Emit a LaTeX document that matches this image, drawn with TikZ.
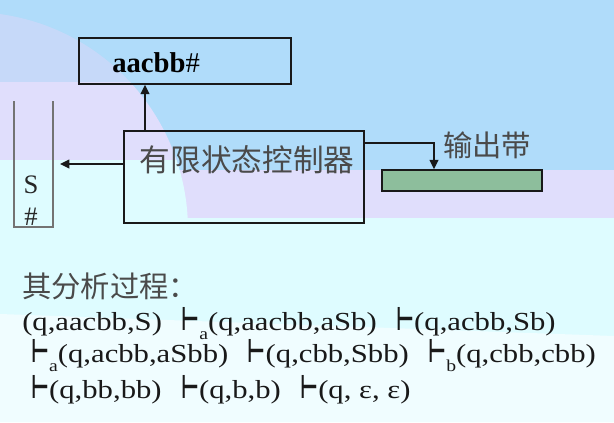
\documentclass[tikz,border=0pt]{standalone}
\usepackage{fontspec}
\usepackage{graphicx}
\setmainfont{Liberation Serif}
\newfontfamily\cjk{Noto Sans CJK SC}
\newfontfamily\formfont{Liberation Serif}[FakeStretch=1.18]
\newfontfamily\tackfont{DejaVu Sans}
\usetikzlibrary{arrows.meta}
\definecolor{bgblue}{HTML}{B0DCFA}
\definecolor{bglight}{HTML}{C6D9F9}
\definecolor{bglav}{HTML}{E0DEFC}
\definecolor{bgcyan}{HTML}{DEFCFF}
\definecolor{bgwhite}{HTML}{F0FDFF}
\definecolor{tapegreen}{HTML}{8DBE9C}
\definecolor{inkgray}{HTML}{4A4A4A}
\newcommand\yields[1]{\scalebox{0.6}[1]{\tackfont\bfseries\fontsize{24.5}{24.5}\selectfont ⊢}\raisebox{-0.38em}{\fontsize{12.5}{12.5}\selectfont #1}}
\newcommand\gap{\hspace{0.75em}}
\begin{document}
\begin{tikzpicture}[x=0.75pt,y=-0.75pt]
        \tikzset{box/.style={draw=black!90, line width=1.1pt, fill=none, inner sep=0pt},
                 arr/.style={line width=1.1pt, draw=black!90, -{Triangle[length=7pt,width=6.5pt]}},
                 cjktext/.style={font=\cjk\fontsize{22}{22}\selectfont, text=inkgray, inner sep=0pt},
                 stacktext/.style={inner sep=0pt, font=\fontsize{20}{20}\selectfont, text=black!85},
                 formline/.style={font=\formfont\fontsize{19.5}{19.5}\selectfont, text=black!90, anchor=base west, inner sep=0pt}}
        \useasboundingbox (0,0) rectangle (614,422);
        \fill[bgcyan] (0,0) rectangle (614,422);
        \fill[bgwhite] (0,314) -- (614,336) -- (614,422) -- (0,422) -- cycle;
        \fill[bgblue] (0,0) rectangle (614,170);
        \fill[bglav] (0,170) rectangle (614,218);
        \begin{scope}
          \clip (-30,230) circle (218);
          \fill[bglight] (-300,-300) rectangle (700,82);
          \fill[bglav] (-300,82) rectangle (700,160);
          \fill[bgcyan] (-300,160) rectangle (700,314);
        \end{scope}
        \node[box, minimum width=159pt, minimum height=34.5pt] (inbox) at (185,61) {};
        \node[anchor=base west, inner sep=0pt, font=\fontsize{21.5}{21.5}\selectfont] (intext) at (112,72.5) {\textbf{aacbb}\#};
        \node[box, minimum width=180pt, minimum height=69pt] (ctrl) at (244,177) {};
        \node[cjktext, font=\cjk\fontsize{23}{23}\selectfont] (ctrltext) at (247,160) {有限状态控制器};
        \node[box, fill=tapegreen, minimum width=120pt, minimum height=15.75pt] (outtape) at (462,180.5) {};
        \node[cjktext] (outlabel) at (487,145) {输出带};
        \draw[draw=black!55, line width=0.8pt] (14,101) -- (14,227) -- (53,227) -- (53,101);
        \node[stacktext] (stackS) at (31,185) {S};
        \node[stacktext] (stackhash) at (31,217) {\#};
        \coordinate (upfoot) at (145,131);
        \coordinate (stacktip) at (60,164);
        \coordinate (outbend) at (434,143);
        \draw[arr] (upfoot) -- (upfoot |- inbox.south);
        \draw[arr] (ctrl.west |- stacktip) -- (stacktip);
        \draw[arr] (ctrl.east |- outbend) -| (outtape.north -| outbend);
        \node[cjktext, anchor=west] (title) at (22,286) {其分析过程：};
        \node[formline] (lineone) at (22,330) {(q,aacbb,S)\gap\yields{a}(q,aacbb,aSb)\gap\yields{}(q,acbb,Sb)};
        \node[formline] (linetwo) at (31,362) {\yields{a}(q,acbb,aSbb)\gap\yields{}(q,cbb,Sbb)\gap\yields{b}(q,cbb,cbb)};
        \node[formline] (linethree) at (31,398) {\yields{}(q,bb,bb)\gap\yields{}(q,b,b)\gap\yields{}(q, ε, ε)};
      \end{tikzpicture}
\end{document}
